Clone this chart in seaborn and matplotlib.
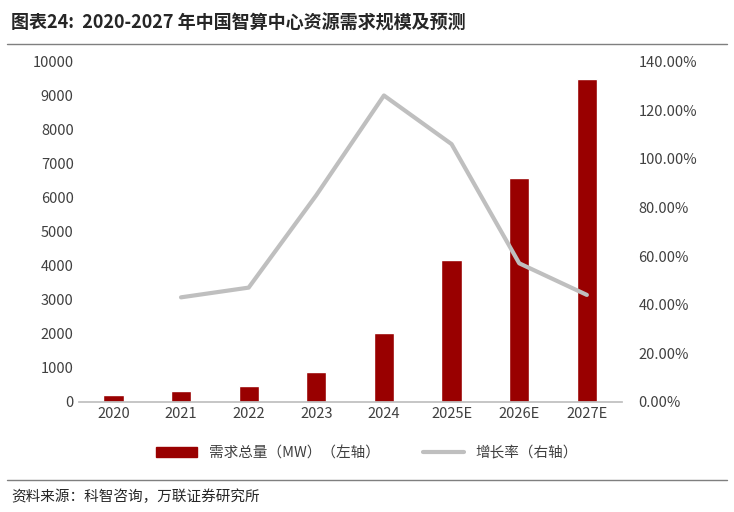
import matplotlib
matplotlib.use("Agg")
import matplotlib.pyplot as plt
import seaborn as sns
import pandas as pd
from matplotlib.ticker import FuncFormatter, MultipleLocator

years = ["2020", "2021", "2022", "2023", "2024", "2025E", "2026E", "2027E"]
demand = [210, 330, 470, 880, 2020, 4170, 6570, 9480]
growth = [None, 43.0, 47.0, 85.0, 126.0, 106.0, 57.0, 44.0]

sns.set_theme(style="white")
plt.rcParams['font.family'] = ['Noto Sans CJK SC', 'DejaVu Sans']

fig = plt.figure(figsize=(7.34, 5.12), dpi=100)
ax = fig.add_axes([0.107, 0.215, 0.74, 0.665])
df = pd.DataFrame({"year": years, "demand": demand, "growth": growth})
sns.barplot(data=df, x="year", y="demand", color="#990000", width=0.3, ax=ax, saturation=1)
ax.set_ylim(0, 10000)
ax.yaxis.set_major_locator(MultipleLocator(1000))
ax.set_xlabel(""); ax.set_ylabel("")
for s in ["top", "right", "left"]:
    ax.spines[s].set_visible(False)
ax.spines["bottom"].set_color("#BFBFBF")
ax.tick_params(colors="#404040", labelsize=10.5, length=0)

ax2 = ax.twinx()
d2 = df.dropna()
ax2.plot([years.index(y) for y in d2["year"]], d2["growth"], color="#BFBFBF", lw=3)
ax2.set_ylim(0, 140)
ax2.yaxis.set_major_locator(MultipleLocator(20))
ax2.yaxis.set_major_formatter(FuncFormatter(lambda v, p: f"{v:.2f}%"))
for s in ["top", "right", "left", "bottom"]:
    ax2.spines[s].set_visible(False)
ax2.tick_params(colors="#404040", labelsize=10.5, length=0, pad=12)
ax2.grid(False); ax.grid(False)

from matplotlib.patches import Patch
from matplotlib.lines import Line2D
handles = [Patch(color="#990000"), Line2D([0], [0], color="#BFBFBF", lw=3)]
fig.legend(handles, ["需求总量（MW）（左轴）", "增长率（右轴）"], loc="center",
           bbox_to_anchor=(0.5, 0.115), ncol=2, frameon=False, fontsize=10.5,
           columnspacing=3, handlelength=2.8, labelcolor="#404040")

fig.text(0.015, 0.955, "图表24:  2020-2027 年中国智算中心资源需求规模及预测",
         fontsize=13, fontweight="bold", va="center", family=['Noto Sans CJK SC', 'DejaVu Sans'])
fig.add_artist(Line2D([0.01, 0.99], [0.915, 0.915], color="#7F7F7F", lw=1))
fig.add_artist(Line2D([0.01, 0.99], [0.063, 0.063], color="#7F7F7F", lw=1))
fig.text(0.015, 0.03, "资料来源：科智咨询，万联证券研究所", fontsize=10.5, style="italic", va="center")
fig.savefig("out.png", dpi=100)
